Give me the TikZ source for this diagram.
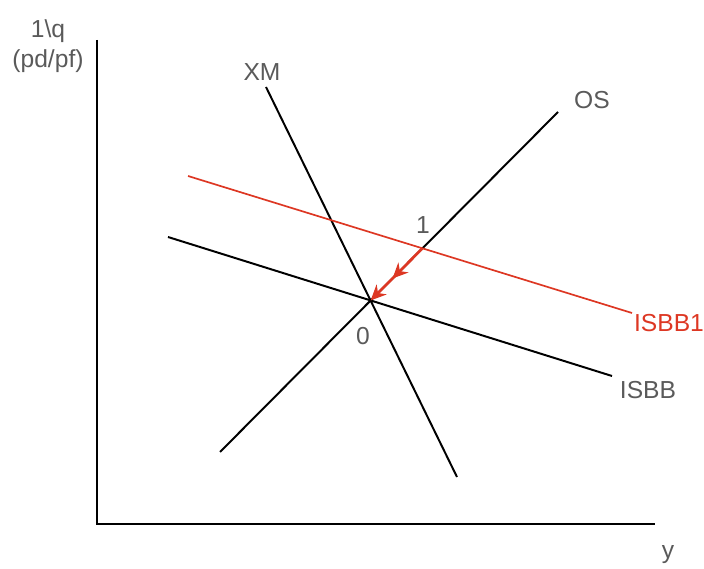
\documentclass[tikz,border=0pt]{standalone}
\usepackage{fontspec}
\setmainfont{Liberation Sans}
\usetikzlibrary{arrows.meta, calc, intersections, decorations.markings}
\definecolor{shiftred}{RGB}{221,55,35}
\definecolor{labelgray}{RGB}{90,90,90}
\tikzset{
  axis/.style={line width=1.8pt},
  curve/.style={line width=1.4pt, black},
  shifted/.style={line width=1.2pt, shiftred},
  lbl/.style={text=labelgray, font=\fontsize{17.5}{21}\selectfont, inner sep=0pt},
  redlbl/.style={text=shiftred, font=\fontsize{17.5}{21}\selectfont, inner sep=0pt},
  move/.style={line width=1.9pt, shiftred, -{Stealth[length=11pt,width=10pt]},
    postaction={decorate},
    decoration={markings, mark=at position 0.58 with {\arrow{Stealth[length=11pt,width=10pt]}}}}
}

\begin{document}
\begin{tikzpicture}[x=0.025cm, y=-0.025cm]
    \useasboundingbox (0,0) rectangle (704,569);

    % Ejes
    \coordinate (origin) at (97,524);
    \coordinate (ytop) at (97,40);
    \coordinate (xend) at (655,524);
    \draw [axis] (ytop) -- (origin) -- (xend);
    \node (ylabel) [lbl, align=center] at (48,46) {1\textbackslash q\\(pd/pf)};
    \node (xlabel) [lbl] at (668,555) {y};

    % Curvas
    \coordinate (xm-a) at (266,87);
    \coordinate (xm-b) at (457,477);
    \coordinate (os-a) at (220,452);
    \coordinate (os-b) at (558,112);
    \coordinate (isbb-a) at (168,237);
    \coordinate (isbb-b) at (612,376);
    \coordinate (isbbone-a) at (188,176);
    \coordinate (isbbone-b) at (632,313);

    \draw [curve, name path=xm] (xm-a) -- (xm-b);
    \draw [curve, name path=os] (os-a) -- (os-b);
    \draw [curve, name path=isbb] (isbb-a) -- (isbb-b);
    \draw [shifted, name path=isbbone] (isbbone-a) -- (isbbone-b);

    \node (xm) [lbl] at (262,72) {XM};
    \node (os) [lbl] at (592,100) {OS};
    \node (isbb) [lbl] at (648,390) {ISBB};
    \node (isbbone) [redlbl] at (669,323) {ISBB1};

    % Equilibrios
    \path [name intersections={of=os and isbbone, by=eq1}];
    \path [name intersections={of=os and isbb, by=eq0}];
    \node (one) [lbl] at (423,225) {1};
    \node (zero) [lbl] at (363,336) {0};

    % Ajuste de 1 a 0
    \draw [move] (eq1) -- (eq0);

\end{tikzpicture}
\end{document}
